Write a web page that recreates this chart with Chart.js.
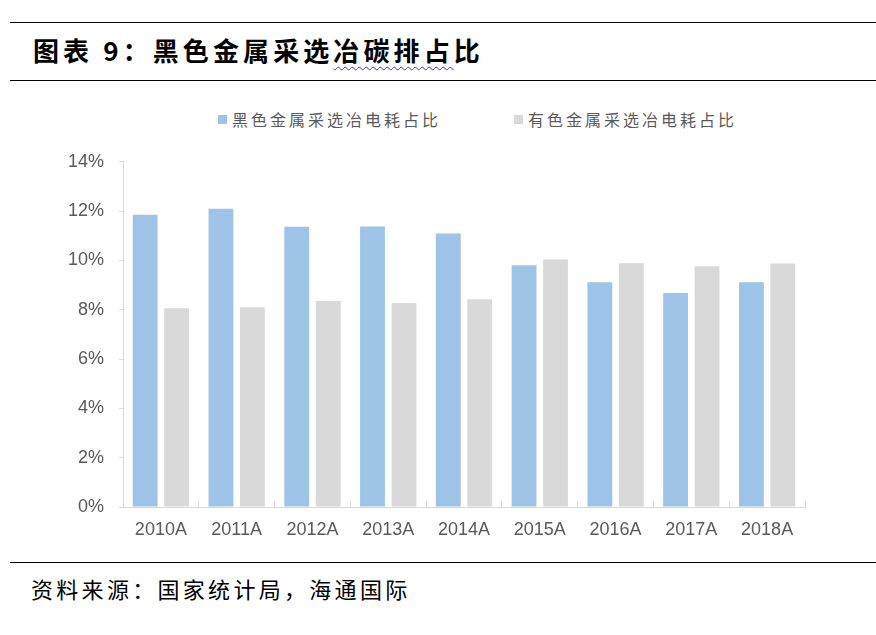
<!DOCTYPE html>
<html>
<head>
<meta charset="utf-8">
<script src="https://cdn.jsdelivr.net/npm/chart.js@4"></script>
<style>
  body { margin: 0; background: #fff; }
  .page { position: relative; width: 876px; height: 635px; overflow: hidden; background: #fff; }
  .rule { position: absolute; left: 10px; right: 0; height: 0; border-top: 1.5px solid #000; }
  .title {
    position: absolute; left: 33px; top: 33px;
    font-family: "Noto Sans CJK SC", sans-serif; font-weight: bold;
    font-size: 26px; letter-spacing: 4.1px; color: #000; white-space: nowrap; line-height: 34px;
  }
  .title .wavy { text-decoration: underline wavy #3a3ad0; text-decoration-thickness: 1px; text-underline-offset: 5px; }
  .source {
    position: absolute; left: 31px; top: 573px;
    font-family: "Noto Sans CJK SC", sans-serif; font-size: 22px; letter-spacing: 3.3px;
    color: #000; white-space: nowrap; line-height: 30px;
  }
  #legend {
    position: absolute; left: 218px; top: 108px; display: flex; gap: 73px;
    font-family: "Noto Sans CJK SC", sans-serif; font-size: 16px; letter-spacing: 3px;
    color: #595959; line-height: 22px;
  }
  #legend .item { display: flex; align-items: center; }
  #legend .box { width: 9px; height: 9px; margin-right: 5px; }
  #wrap { position: absolute; left: 0; top: 136px; width: 876px; height: 411px; }
</style>
</head>
<body>
<div class="page">
  <div class="rule" style="top:22px"></div>
  <div class="title">图表 9：黑色金属采选<span class="wavy">冶碳排占</span>比</div>
  <div class="rule" style="top:80px"></div>
  <div id="legend"></div>
  <div id="wrap"><canvas id="chart"></canvas></div>
  <div class="rule" style="top:562px"></div>
  <div class="source">资料来源：国家统计局，海通国际</div>
</div>
<script>
// data
const years = ['2010A', '2011A', '2012A', '2013A', '2014A', '2015A', '2016A', '2017A', '2018A'];
const ferrousShare = [11.85, 12.1, 11.37, 11.38, 11.09, 9.8, 9.12, 8.68, 9.12];
const nonFerrousShare = [8.06, 8.1, 8.35, 8.27, 8.43, 10.04, 9.89, 9.76, 9.88];
const yTicks = [0, 2, 4, 6, 8, 10, 12, 14];

const tickFont = { family: '"Liberation Sans", Arial, sans-serif', size: 18 };

const ctx = document.getElementById('chart').getContext('2d');
const chart = new Chart(ctx, {
  type: 'bar',
  data: {
    labels: years,
    datasets: [
      {
        label: '黑色金属采选冶电耗占比',
        data: ferrousShare,
        backgroundColor: '#9dc3e6',
        categoryPercentage: 0.83,
        barPercentage: 0.79
      },
      {
        label: '有色金属采选冶电耗占比',
        data: nonFerrousShare,
        backgroundColor: '#d9d9d9',
        categoryPercentage: 0.83,
        barPercentage: 0.79
      }
    ]
  },
  options: {
    responsive: true,
    maintainAspectRatio: false,
    animation: false,
    layout: { padding: { left: 0, right: 71, top: 16, bottom: 0 } },
    plugins: {
      legend: { display: false },
      tooltip: { enabled: false }
    },
    scales: {
      x: {
        grid: {
          display: true,
          offset: true,
          drawOnChartArea: false,
          tickLength: -6,
          color: '#d9d9d9'
        },
        border: { color: '#d9d9d9', width: 1 },
        ticks: { color: '#595959', font: tickFont, padding: 18, maxRotation: 0 },
        afterFit: scale => { scale.height = 40; }
      },
      y: {
        min: 0,
        max: 14,
        afterBuildTicks: scale => { scale.ticks = yTicks.map(v => ({ value: v })); },
        grid: {
          display: true,
          drawOnChartArea: false,
          tickLength: 4,
          color: '#d9d9d9'
        },
        border: { color: '#d9d9d9', width: 1 },
        ticks: {
          color: '#595959',
          font: tickFont,
          padding: 15,
          callback: v => v + '%'
        },
        afterFit: scale => { scale.width = 123; }
      }
    }
  }
});

// html legend built from the datasets
const legendEl = document.getElementById('legend');
chart.data.datasets.forEach(ds => {
  const item = document.createElement('div');
  item.className = 'item';
  const box = document.createElement('span');
  box.className = 'box';
  box.style.background = ds.backgroundColor;
  const txt = document.createElement('span');
  txt.textContent = ds.label;
  item.appendChild(box);
  item.appendChild(txt);
  legendEl.appendChild(item);
});
</script>
</body>
</html>
